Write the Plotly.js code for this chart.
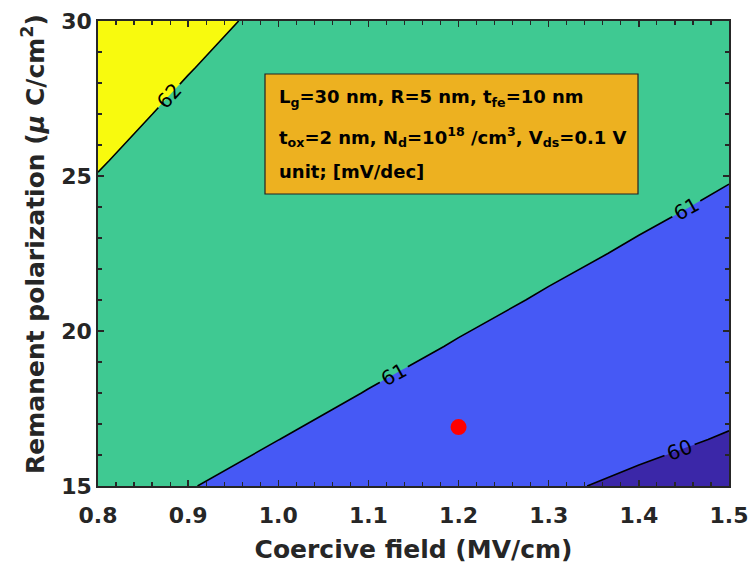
<!DOCTYPE html>
<html>
<head>
<meta charset="utf-8">
<script src="https://cdn.plot.ly/plotly-3.0.1.min.js"></script>
<style>html,body{margin:0;padding:0;background:#fff;}#chart{width:755px;height:564px;}</style>
</head>
<body>
<div id="chart"></div>
<script>
// Coercive field (MV/cm)
const coerciveField = [0.8, 0.9, 1.0, 1.1, 1.2, 1.3, 1.4, 1.5];
// Remanent polarization (uC/cm^2)
const remanentPol = [15, 16.5, 18, 19.5, 21, 22.5, 24, 25.5, 27, 28.5, 30];
// Subthreshold swing (mV/dec), rows follow remanentPol, columns follow coerciveField
const swing = [
  [61.255, 61.024, 60.793, 60.561, 60.330, 60.099, 59.867, 59.636],
  [61.424, 61.213, 61.003, 60.793, 60.582, 60.372, 60.162, 59.951],
  [61.564, 61.371, 61.178, 60.985, 60.793, 60.600, 60.407, 60.214],
  [61.682, 61.504, 61.327, 61.149, 60.971, 60.793, 60.615, 60.437],
  [61.784, 61.619, 61.454, 61.288, 61.123, 60.958, 60.793, 60.627],
  [61.872, 61.718, 61.564, 61.410, 61.255, 61.101, 60.947, 60.793],
  [61.949, 61.805, 61.660, 61.516, 61.371, 61.226, 61.082, 60.937],
  [62.017, 61.881, 61.745, 61.609, 61.473, 61.337, 61.201, 61.065],
  [62.078, 61.949, 61.821, 61.692, 61.564, 61.435, 61.307, 61.178],
  [62.132, 62.010, 61.888, 61.767, 61.645, 61.523, 61.401, 61.280],
  [62.181, 62.065, 61.949, 61.834, 61.718, 61.602, 61.487, 61.371]
];
// Marked design point
const pointX = [1.2];
const pointY = [16.9];
// Tick labels
const xTicks = [0.8, 0.9, 1.0, 1.1, 1.2, 1.3, 1.4, 1.5];
const yTicks = [15, 20, 25, 30];

const dark = '#3B27A8', blue = '#4659F5', green = '#3FC992', yellow = '#F8FA0E';
const axisColor = '#262626';
const fontFam = '"DejaVu Sans", Verdana, sans-serif';

// contour levels: a wide start keeps Plotly's label spacing tighter; colours map on [start-0.5, end+0.5]
const cStart = 33, cEnd = 62;
const lo = cStart - 0.5, span = (cEnd + 0.5) - lo;
const f = v => (v - lo) / span;

const traces = [
  {
    type: 'contour',
    x: coerciveField,
    y: remanentPol,
    z: swing,
    autocontour: false,
    contours: {start: cStart, end: cEnd, size: 1, coloring: 'fill', showlines: true, showlabels: true,
      labelfont: {family: fontFam, size: 20, color: '#000'}},
    line: {color: '#000', width: 1.6, smoothing: 0},
    colorscale: [[0, dark], [f(60), dark], [f(60), blue], [f(61), blue], [f(61), green], [f(62), green], [f(62), yellow], [1, yellow]],
    showscale: false,
    hoverinfo: 'skip'
  },
  {
    type: 'scatter', mode: 'markers',
    x: pointX, y: pointY,
    marker: {color: '#FF0000', size: 16},
    showlegend: false
  }
];

const px2x = p => 0.8 + (p - 98) * 0.7 / 631;
const py2y = p => 30 - (p - 21) * 15 / 465;

const boxFont = {family: fontFam, size: 18, color: '#000', weight: 'bold'};
const layout = {
  width: 755, height: 564,
  margin: {l: 98, r: 26, t: 21, b: 78, pad: 0},
  paper_bgcolor: '#fff', plot_bgcolor: '#fff',
  showlegend: false,
  font: {family: fontFam, color: axisColor},
  xaxis: {
    range: [0.8, 1.5], tickvals: xTicks, tickformat: '.1f',
    ticks: 'inside', ticklen: 6, tickwidth: 1.5, tickcolor: axisColor,
    minor: {ticks: 'inside', dtick: 0.02, tick0: 0.8, ticklen: 4, tickwidth: 1.2, tickcolor: axisColor, showgrid: false},
    showline: true, linecolor: axisColor, linewidth: 1.8, mirror: 'ticks',
    showgrid: false, zeroline: false, ticklabelstandoff: 9,
    tickfont: {family: fontFam, size: 22, color: axisColor, weight: 'bold'},
    title: {text: 'Coercive field (MV/cm)', font: {family: fontFam, size: 25, color: axisColor, weight: 'bold'}, standoff: 14}
  },
  yaxis: {
    range: [15, 30], tickvals: yTicks,
    ticks: 'inside', ticklen: 6, tickwidth: 1.5, tickcolor: axisColor,
    minor: {ticks: 'inside', dtick: 1, tick0: 15, ticklen: 4, tickwidth: 1.2, tickcolor: axisColor, showgrid: false},
    showline: true, linecolor: axisColor, linewidth: 1.8, mirror: 'ticks',
    showgrid: false, zeroline: false,
    tickfont: {family: fontFam, size: 22, color: axisColor, weight: 'bold'}
  },
  shapes: [
    {type: 'rect', xref: 'x', yref: 'y', x0: px2x(265), x1: px2x(638), y0: py2y(194), y1: py2y(74),
     fillcolor: '#EDB120', line: {color: '#222', width: 1.2}, layer: 'above'}
  ],
  annotations: [
    {xref: 'paper', yref: 'paper', x: (33 - 98) / 631, y: (486 - 244) / 465, xanchor: 'center', yanchor: 'middle',
     textangle: -90, showarrow: false,
     text: 'Remanent polarization (<i>μ</i> C/cm<sup>2</sup>)', font: {family: fontFam, size: 25, color: axisColor, weight: 'bold'}},
    {xref: 'x', yref: 'y', x: px2x(277), y: py2y(98), xanchor: 'left', yanchor: 'middle', showarrow: false,
     text: 'L<sub>g</sub>=30 nm, R=5 nm, t<sub>fe</sub>=10 nm', font: boxFont},
    {xref: 'x', yref: 'y', x: px2x(277), y: py2y(137), xanchor: 'left', yanchor: 'middle', showarrow: false,
     text: 't<sub>ox</sub>=2 nm, N<sub>d</sub>=10<sup>18</sup> /cm<sup>3</sup>, V<sub>ds</sub>=0.1 V', font: boxFont},
    {xref: 'x', yref: 'y', x: px2x(277), y: py2y(171), xanchor: 'left', yanchor: 'middle', showarrow: false,
     text: 'unit; [mV/dec]', font: boxFont}
  ]
};

Plotly.newPlot('chart', traces, layout, {displayModeBar: false, staticPlot: true});
</script>
</body>
</html>
